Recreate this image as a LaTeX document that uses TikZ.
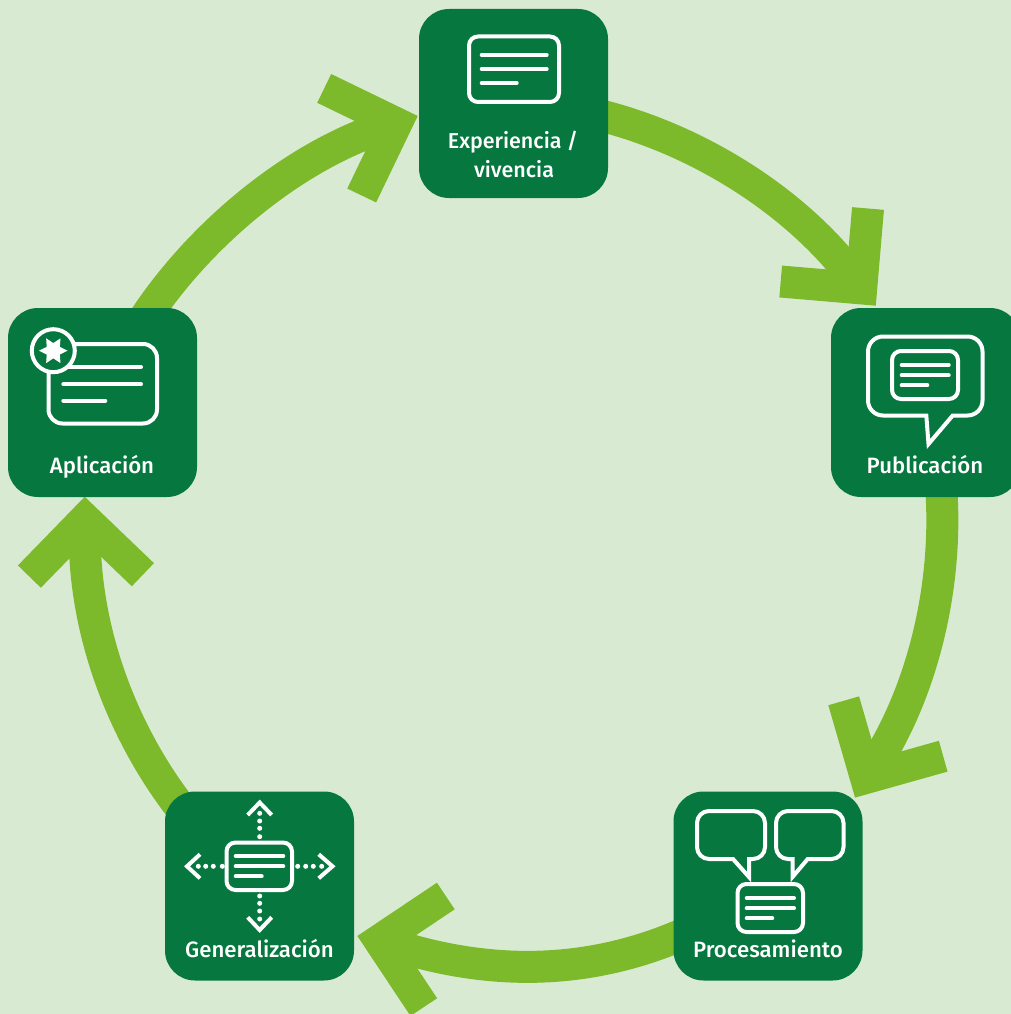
\documentclass[tikz,border=0pt]{standalone}
\usepackage{fontspec}
\setmainfont{Fira Sans}[UprightFont=* Medium]
\usetikzlibrary{backgrounds}
\definecolor{bgc}{HTML}{D9EAD3}
\definecolor{dark}{HTML}{06773F}
\definecolor{lite}{HTML}{7CBA2B}
\tikzset{
  box/.style={fill=dark,draw=none,rounded corners=30,minimum width=189,minimum height=189,inner sep=0,outer sep=0},
  shaft/.style={draw=lite,line width=32,line cap=butt},
  head/.style={draw=lite,line width=32,line cap=butt,line join=miter,miter limit=10},
  lab/.style={text=white,font=\fontsize{22.2}{25}\selectfont,anchor=base,inner sep=0},
  labs/.style={lab,font=\fontsize{21.5}{25}\selectfont},
  frame/.style={draw=white,line width=4,rounded corners=9},
  txt/.style={draw=white,line width=4,line cap=round},
  chev/.style={draw=white,line width=4,line join=miter},
  dotm/.style={fill=white,draw=none}
}
\newcommand{\dotsat}[1]{\foreach \p in {#1}{\fill[dotm] (\p) circle (2.5);}}
\begin{document}
\begin{tikzpicture}[x=1pt,y=1pt,yscale=-1]
\useasboundingbox (0,0) rectangle (1011,1014);
% boxes
\node[box] (exp) at (513.5,103.5) {};
\node[box] (pub) at (925.5,402.5) {};
\node[box] (pro) at (768,886) {};
\node[box] (gen) at (259.5,886) {};
\node[box] (apl) at (102.5,402.5) {};
% head apexes
\coordinate (h1) at (396.4,123.4);
\coordinate (h1a) at (324.2,88.4);
\coordinate (h1b) at (361.7,195.5);
\coordinate (h2) at (861.2,288.4);
\coordinate (h2a) at (868,208.5);
\coordinate (h2b) at (780.7,281.5);
\coordinate (h3) at (866,777.9);
\coordinate (h3a) at (843.7,700.8);
\coordinate (h3b) at (943.2,756.2);
\coordinate (h4) at (379.5,940.4);
\coordinate (h4a) at (445.8,896);
\coordinate (h4b) at (423.8,1007.1);
\coordinate (h5) at (85.1,519.3);
\coordinate (h5a) at (29.4,576.6);
\coordinate (h5b) at (142.9,574.7);
\begin{pgfonlayer}{background}
  \fill[bgc] (0,0) rectangle (1011,1014);
  \draw[shaft] (exp.center) to[bend right=27.2,looseness=0.83] (h2);
  \draw[shaft] (pub.center) to[bend right=26.3,looseness=0.83] (h3);
  \draw[shaft] (pro.center) to[bend right=27.2,looseness=0.96] (h4);
  \draw[shaft] (gen.center) to[bend right=28,looseness=0.86] (h5);
  \draw[shaft] (apl.center) to[bend right=28,looseness=0.8] (h1);
  \draw[head] (h1a) -- (h1) -- (h1b);
  \draw[head] (h2a) -- (h2) -- (h2b);
  \draw[head] (h3a) -- (h3) -- (h3b);
  \draw[head] (h4a) -- (h4) -- (h4b);
  \draw[head] (h5a) -- (h5) -- (h5b);
\end{pgfonlayer}
% Experiencia
\draw[frame] (469,36.5) rectangle (559,102);
\draw[txt] (481.7,55) -- (546.7,55);
\draw[txt] (481.7,69) -- (546.7,69);
\draw[txt] (481.7,83) -- (516.7,83);
\node[labs] (t1a) at (513,148) {Experiencia /};
\node[labs] (t1b) at (514,177.5) {vivencia};
% Publicacion
\draw[draw=white,line width=4,line join=miter]
  (883,336.5) -- (967.5,336.5) arc[start angle=-90,end angle=0,radius=15] -- (982.5,400.5)
  arc[start angle=0,end angle=90,radius=15] -- (952.7,415.5) -- (928.5,444) -- (926.3,415.5) -- (883,415.5)
  arc[start angle=90,end angle=180,radius=15] -- (868,351.5) arc[start angle=180,end angle=270,radius=15] -- cycle;
\draw[frame] (892,351) rectangle (958,399);
\draw[txt] (901.7,365) -- (948.7,365);
\draw[txt] (901.7,375.3) -- (948.7,375.3);
\draw[txt] (901.7,385.3) -- (927.3,385.3);
\node[lab] (t2) at (925,473.3) {Publicación};
% Procesamiento
\draw[draw=white,line width=4,line join=miter]
  (709,811) -- (753,811) arc[start angle=-90,end angle=0,radius=12] -- (765,847)
  arc[start angle=0,end angle=90,radius=12] -- (749,859) -- (749,877) -- (733,859) -- (709,859)
  arc[start angle=90,end angle=180,radius=12] -- (697,823) arc[start angle=180,end angle=270,radius=12] -- cycle;
\draw[draw=white,line width=4,line join=miter]
  (788,811) -- (831.5,811) arc[start angle=-90,end angle=0,radius=12] -- (843.5,847)
  arc[start angle=0,end angle=90,radius=12] -- (807.7,859) -- (792.5,877) -- (792.5,859) -- (788,859)
  arc[start angle=90,end angle=180,radius=12] -- (776,823) arc[start angle=180,end angle=270,radius=12] -- cycle;
\draw[frame] (737.5,884) rectangle (803,932);
\draw[txt] (746.7,898) -- (794,898);
\draw[txt] (746.7,908.3) -- (794,908.3);
\draw[txt] (746.7,918.3) -- (772.3,918.3);
\node[lab] (t3) at (768,957.3) {Procesamiento};
% Generalizacion
\draw[frame] (226.5,842.5) rectangle (292,890);
\draw[txt] (235.7,856) -- (283.3,856);
\draw[txt] (235.7,866.3) -- (283.3,866.3);
\draw[txt] (235.7,876.3) -- (261.7,876.3);
\draw[chev] (247.7,815) -- (259.7,802.5) -- (271.7,815);
\draw[chev] (247.7,917.3) -- (259.7,930) -- (271.7,917.3);
\draw[chev] (200,854.3) -- (187,866.3) -- (200,878.3);
\draw[chev] (318.7,854.3) -- (332.5,866.3) -- (318.7,878.3);
\dotsat{{259.7,813.3},{259.7,821},{259.7,828.3},{259.7,836.7},{259.7,896},{259.7,903.3},{259.7,911},{259.7,919}}
\dotsat{{198.3,866.3},{205.7,866.3},{213.3,866.3},{222.3,866.3},{297.7,866.3},{305.7,866.3},{313.3,866.3},{321.7,866.3}}
\node[lab] (t4) at (259.5,957) {Generalización};
% Aplicacion
\draw[draw=white,line width=4,rounded corners=14] (48.5,344) rectangle (157,423.5);
\draw[txt] (63.3,367) -- (141,367);
\draw[txt] (63.3,384.3) -- (141,384.3);
\draw[txt] (63.3,400.7) -- (105.3,400.7);
\filldraw[fill=dark,draw=white,line width=4] (53.3,350.7) circle (21.5);
\fill[white,shift={(53.3,350.7)}] (0:14.3) -- (30:7.6) -- (60:14.3) -- (90:7.6) -- (120:14.3) -- (150:7.6)
  -- (180:14.3) -- (210:7.6) -- (240:14.3) -- (270:7.6) -- (300:14.3) -- (330:7.6) -- cycle;
\node[lab] (t5) at (102,473.3) {Aplicación};
\end{tikzpicture}
\end{document}
